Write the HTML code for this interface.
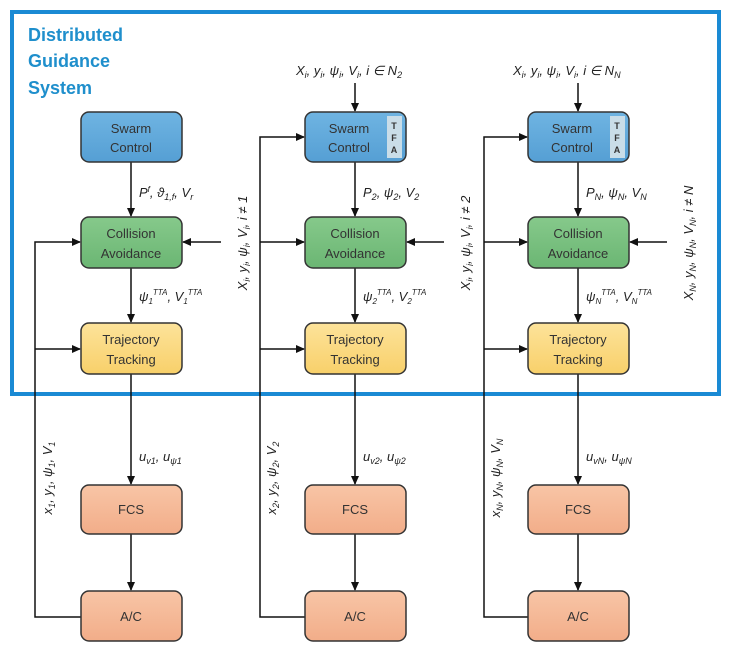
<!DOCTYPE html>
<html><head><meta charset="utf-8"><style>
body{margin:0;background:#fff;}
svg{display:block;font-family:"Liberation Sans",sans-serif;}
.bt{font-size:13px;fill:#333;text-anchor:middle;}
.lb{font-size:13px;font-style:italic;fill:#222;}
</style></head><body>
<svg width="740" height="659" viewBox="0 0 740 659" xmlns="http://www.w3.org/2000/svg">
<defs>
<marker id="a" markerWidth="10" markerHeight="10" refX="8" refY="4" orient="auto" markerUnits="userSpaceOnUse">
<path d="M0,0 L9,4 L0,8 Z" fill="#111"/></marker>
<linearGradient id="gb" x1="0" y1="0" x2="0" y2="1"><stop offset="0" stop-color="#6fb4e2"/><stop offset="1" stop-color="#559fd4"/></linearGradient>
<linearGradient id="gg" x1="0" y1="0" x2="0" y2="1"><stop offset="0" stop-color="#86c98b"/><stop offset="1" stop-color="#6bb673"/></linearGradient>
<linearGradient id="gy" x1="0" y1="0" x2="0" y2="1"><stop offset="0" stop-color="#fde39a"/><stop offset="1" stop-color="#f8d06a"/></linearGradient>
<linearGradient id="go" x1="0" y1="0" x2="0" y2="1"><stop offset="0" stop-color="#f8c5a6"/><stop offset="1" stop-color="#f2ad89"/></linearGradient>
</defs>
<rect x="12" y="12" width="707" height="382" fill="none" stroke="#1a8ad4" stroke-width="4"/>
<text x="28" y="41" font-size="18" font-weight="bold" fill="#1f8fcc">Distributed</text>
<text x="28" y="67" font-size="18" font-weight="bold" fill="#1f8fcc">Guidance</text>
<text x="28" y="94" font-size="18" font-weight="bold" fill="#1f8fcc">System</text>

<g stroke="#111" stroke-width="1.5" fill="none">
<line x1="131" y1="162" x2="131" y2="216" marker-end="url(#a)"/>
<line x1="131" y1="268" x2="131" y2="322" marker-end="url(#a)"/>
<line x1="131" y1="374" x2="131" y2="484" marker-end="url(#a)"/>
<line x1="131" y1="534" x2="131" y2="590" marker-end="url(#a)"/>
<polyline points="81,617 35,617 35,242 80,242" marker-end="url(#a)"/>
<line x1="35" y1="349" x2="80" y2="349" marker-end="url(#a)"/>
<line x1="221" y1="242" x2="183" y2="242" marker-end="url(#a)"/>
<line x1="355" y1="83" x2="355" y2="111" marker-end="url(#a)"/>
<line x1="355" y1="162" x2="355" y2="216" marker-end="url(#a)"/>
<line x1="355" y1="268" x2="355" y2="322" marker-end="url(#a)"/>
<line x1="355" y1="374" x2="355" y2="484" marker-end="url(#a)"/>
<line x1="355" y1="534" x2="355" y2="590" marker-end="url(#a)"/>
<polyline points="305,617 260,617 260,137 304,137" marker-end="url(#a)"/>
<line x1="260" y1="242" x2="304" y2="242" marker-end="url(#a)"/>
<line x1="260" y1="349" x2="304" y2="349" marker-end="url(#a)"/>
<line x1="444" y1="242" x2="407" y2="242" marker-end="url(#a)"/>
<line x1="578" y1="83" x2="578" y2="111" marker-end="url(#a)"/>
<line x1="578" y1="162" x2="578" y2="216" marker-end="url(#a)"/>
<line x1="578" y1="268" x2="578" y2="322" marker-end="url(#a)"/>
<line x1="578" y1="374" x2="578" y2="484" marker-end="url(#a)"/>
<line x1="578" y1="534" x2="578" y2="590" marker-end="url(#a)"/>
<polyline points="528,617 484,617 484,137 527,137" marker-end="url(#a)"/>
<line x1="484" y1="242" x2="527" y2="242" marker-end="url(#a)"/>
<line x1="484" y1="349" x2="527" y2="349" marker-end="url(#a)"/>
<line x1="667" y1="242" x2="630" y2="242" marker-end="url(#a)"/>
</g>

<g stroke="#333" stroke-width="1.5">
<rect x="81" y="112" width="101" height="50" rx="8" fill="url(#gb)"/>
<rect x="81" y="217" width="101" height="51" rx="8" fill="url(#gg)"/>
<rect x="81" y="323" width="101" height="51" rx="8" fill="url(#gy)"/>
<rect x="81" y="485" width="101" height="49" rx="8" fill="url(#go)"/>
<rect x="81" y="591" width="101" height="50" rx="8" fill="url(#go)"/>
<rect x="305" y="112" width="101" height="50" rx="8" fill="url(#gb)"/>
<rect x="305" y="217" width="101" height="51" rx="8" fill="url(#gg)"/>
<rect x="305" y="323" width="101" height="51" rx="8" fill="url(#gy)"/>
<rect x="305" y="485" width="101" height="49" rx="8" fill="url(#go)"/>
<rect x="305" y="591" width="101" height="50" rx="8" fill="url(#go)"/>
<rect x="528" y="112" width="101" height="50" rx="8" fill="url(#gb)"/>
<rect x="528" y="217" width="101" height="51" rx="8" fill="url(#gg)"/>
<rect x="528" y="323" width="101" height="51" rx="8" fill="url(#gy)"/>
<rect x="528" y="485" width="101" height="49" rx="8" fill="url(#go)"/>
<rect x="528" y="591" width="101" height="50" rx="8" fill="url(#go)"/>
</g>
<rect x="387" y="116" width="15" height="42" fill="#c9dde8"/>
<rect x="610" y="116" width="15" height="42" fill="#c9dde8"/>
<g font-size="9" font-weight="bold" fill="#333" text-anchor="middle">
<text x="394" y="129">T</text><text x="394" y="141">F</text><text x="394" y="153">A</text>
<text x="617" y="129">T</text><text x="617" y="141">F</text><text x="617" y="153">A</text>
</g>

<g class="bt">
<text class="bt" x="131" y="133">Swarm</text><text class="bt" x="131" y="152">Control</text>
<text class="bt" x="131" y="238">Collision</text><text class="bt" x="131" y="258">Avoidance</text>
<text class="bt" x="131" y="344">Trajectory</text><text class="bt" x="131" y="364">Tracking</text>
<text class="bt" x="131" y="514">FCS</text><text class="bt" x="131" y="621">A/C</text>
<text class="bt" x="349" y="133">Swarm</text><text class="bt" x="349" y="152">Control</text>
<text class="bt" x="355" y="238">Collision</text><text class="bt" x="355" y="258">Avoidance</text>
<text class="bt" x="355" y="344">Trajectory</text><text class="bt" x="355" y="364">Tracking</text>
<text class="bt" x="355" y="514">FCS</text><text class="bt" x="355" y="621">A/C</text>
<text class="bt" x="572" y="133">Swarm</text><text class="bt" x="572" y="152">Control</text>
<text class="bt" x="578" y="238">Collision</text><text class="bt" x="578" y="258">Avoidance</text>
<text class="bt" x="578" y="344">Trajectory</text><text class="bt" x="578" y="364">Tracking</text>
<text class="bt" x="578" y="514">FCS</text><text class="bt" x="578" y="621">A/C</text>
</g>

<g class="lb" font-size="13" font-style="italic" fill="#222">
<text x="296" y="75">X<tspan font-size="9" dy="3">i</tspan><tspan dy="-3">, y</tspan><tspan font-size="9" dy="3">i</tspan><tspan dy="-3">, ψ</tspan><tspan font-size="9" dy="3">i</tspan><tspan dy="-3">, V</tspan><tspan font-size="9" dy="3">i</tspan><tspan dy="-3">, i ∈ N</tspan><tspan font-size="9" dy="3">2</tspan></text>
<text x="513" y="75">X<tspan font-size="9" dy="3">i</tspan><tspan dy="-3">, y</tspan><tspan font-size="9" dy="3">i</tspan><tspan dy="-3">, ψ</tspan><tspan font-size="9" dy="3">i</tspan><tspan dy="-3">, V</tspan><tspan font-size="9" dy="3">i</tspan><tspan dy="-3">, i ∈ N</tspan><tspan font-size="9" dy="3">N</tspan></text>
<text x="139" y="197">P<tspan font-size="8" dy="-5">f</tspan><tspan dy="5">, ϑ</tspan><tspan font-size="9" dy="3">1,f</tspan><tspan dy="-3">, V</tspan><tspan font-size="9" dy="3">r</tspan></text>
<text x="363" y="197">P<tspan font-size="9" dy="3">2</tspan><tspan dy="-3">, ψ</tspan><tspan font-size="9" dy="3">2</tspan><tspan dy="-3">, V</tspan><tspan font-size="9" dy="3">2</tspan></text>
<text x="586" y="197">P<tspan font-size="9" dy="3">N</tspan><tspan dy="-3">, ψ</tspan><tspan font-size="9" dy="3">N</tspan><tspan dy="-3">, V</tspan><tspan font-size="9" dy="3">N</tspan></text>
<text x="139" y="301">ψ<tspan font-size="8" dy="3">1</tspan><tspan font-size="8" dy="-9">TTA</tspan><tspan dy="6">, V</tspan><tspan font-size="8" dy="3">1</tspan><tspan font-size="8" dy="-9">TTA</tspan></text>
<text x="363" y="301">ψ<tspan font-size="8" dy="3">2</tspan><tspan font-size="8" dy="-9">TTA</tspan><tspan dy="6">, V</tspan><tspan font-size="8" dy="3">2</tspan><tspan font-size="8" dy="-9">TTA</tspan></text>
<text x="586" y="301">ψ<tspan font-size="8" dy="3">N</tspan><tspan font-size="8" dy="-9">TTA</tspan><tspan dy="6">, V</tspan><tspan font-size="8" dy="3">N</tspan><tspan font-size="8" dy="-9">TTA</tspan></text>
<text x="139" y="461">u<tspan font-size="9" dy="3">v1</tspan><tspan dy="-3">, u</tspan><tspan font-size="9" dy="3">ψ1</tspan></text>
<text x="363" y="461">u<tspan font-size="9" dy="3">v2</tspan><tspan dy="-3">, u</tspan><tspan font-size="9" dy="3">ψ2</tspan></text>
<text x="586" y="461">u<tspan font-size="9" dy="3">vN</tspan><tspan dy="-3">, u</tspan><tspan font-size="9" dy="3">ψN</tspan></text>
<g text-anchor="middle">
<text transform="translate(247,243) rotate(-90)">X<tspan font-size="9" dy="3">i</tspan><tspan dy="-3">, y</tspan><tspan font-size="9" dy="3">i</tspan><tspan dy="-3">, ψ</tspan><tspan font-size="9" dy="3">i</tspan><tspan dy="-3">, V</tspan><tspan font-size="9" dy="3">i</tspan><tspan dy="-3">, i ≠ 1</tspan></text>
<text transform="translate(470,243) rotate(-90)">X<tspan font-size="9" dy="3">i</tspan><tspan dy="-3">, y</tspan><tspan font-size="9" dy="3">i</tspan><tspan dy="-3">, ψ</tspan><tspan font-size="9" dy="3">i</tspan><tspan dy="-3">, V</tspan><tspan font-size="9" dy="3">i</tspan><tspan dy="-3">, i ≠ 2</tspan></text>
<text transform="translate(693,243) rotate(-90)">X<tspan font-size="9" dy="3">N</tspan><tspan dy="-3">, y</tspan><tspan font-size="9" dy="3">N</tspan><tspan dy="-3">, ψ</tspan><tspan font-size="9" dy="3">N</tspan><tspan dy="-3">, V</tspan><tspan font-size="9" dy="3">N</tspan><tspan dy="-3">, i ≠ N</tspan></text>
<text transform="translate(52,478) rotate(-90)">x<tspan font-size="9" dy="3">1</tspan><tspan dy="-3">, y</tspan><tspan font-size="9" dy="3">1</tspan><tspan dy="-3">, ψ</tspan><tspan font-size="9" dy="3">1</tspan><tspan dy="-3">, V</tspan><tspan font-size="9" dy="3">1</tspan></text>
<text transform="translate(276,478) rotate(-90)">x<tspan font-size="9" dy="3">2</tspan><tspan dy="-3">, y</tspan><tspan font-size="9" dy="3">2</tspan><tspan dy="-3">, ψ</tspan><tspan font-size="9" dy="3">2</tspan><tspan dy="-3">, V</tspan><tspan font-size="9" dy="3">2</tspan></text>
<text transform="translate(500,478) rotate(-90)">x<tspan font-size="9" dy="3">N</tspan><tspan dy="-3">, y</tspan><tspan font-size="9" dy="3">N</tspan><tspan dy="-3">, ψ</tspan><tspan font-size="9" dy="3">N</tspan><tspan dy="-3">, V</tspan><tspan font-size="9" dy="3">N</tspan></text>
</g>
</g>
</svg>
</body></html>
